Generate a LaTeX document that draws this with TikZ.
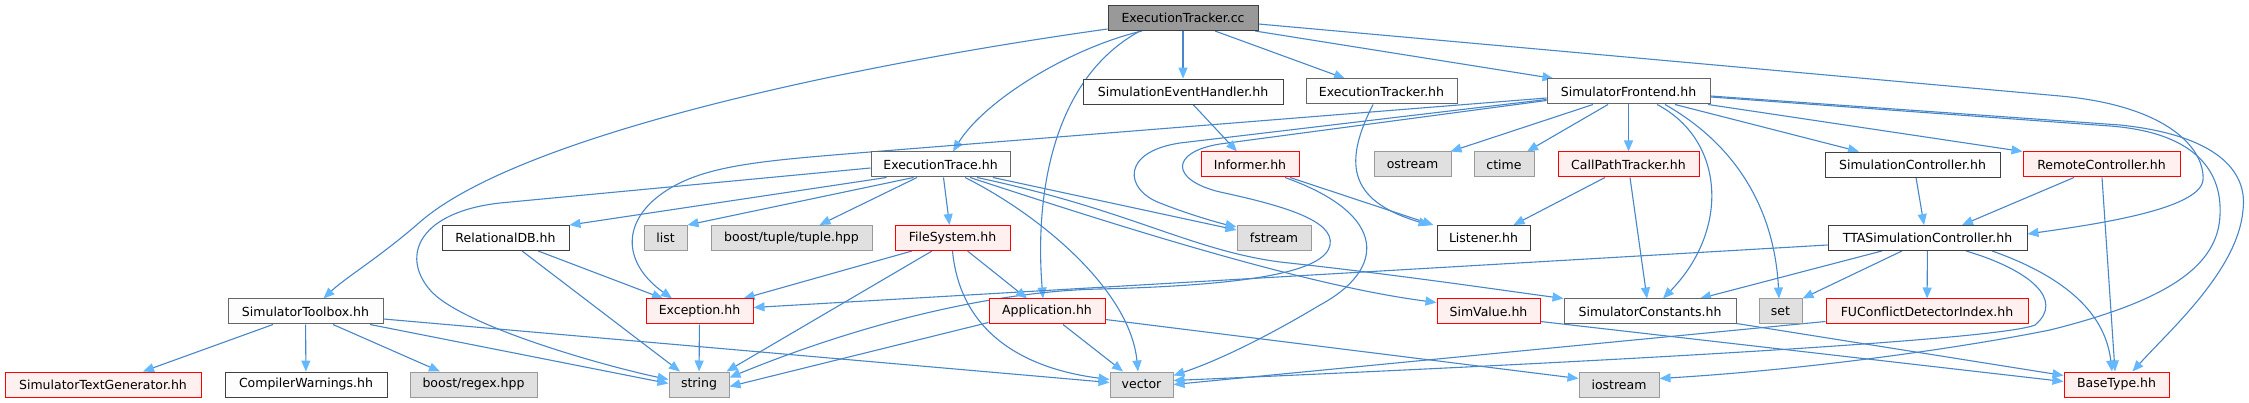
\documentclass[tikz,border=0pt]{standalone}
\usepackage{fontspec}
\setmainfont{DejaVu Sans}
\usetikzlibrary{arrows.meta}
\definecolor{edgeblue}{HTML}{4786C8}
\definecolor{tipblue}{HTML}{63B8FF}
\definecolor{rootfill}{HTML}{999999}
\definecolor{redfill}{HTML}{FFF0F0}
\definecolor{extfill}{HTML}{E0E0E0}
\definecolor{extdraw}{HTML}{999999}
\definecolor{docdraw}{HTML}{666666}
\definecolor{darkdraw}{HTML}{404040}
\definecolor{whitefill}{HTML}{FCFDFC}
\pgfdeclarelayer{bg}
\pgfsetlayers{bg,main}
\tikzset{
 box/.style={rectangle, inner sep=0pt, minimum height=25pt, font=\fontsize{12.5}{15}\selectfont, text=black},
 rootbox/.style={box, fill=rootfill, draw=darkdraw, line width=1pt},
 docbox/.style={box, fill=whitefill, draw=docdraw, line width=1pt},
 darkbox/.style={box, fill=whitefill, draw=darkdraw, line width=0.9pt},
 redbox/.style={box, fill=redfill, draw=red, line width=1pt},
 extbox/.style={box, fill=extfill, draw=extdraw, line width=1pt},
 edge/.style={draw=edgeblue, line width=1.1pt, -{Triangle[length=11pt,width=9pt,color=tipblue]}},
}
\begin{document}
\begin{tikzpicture}[x=1pt,y=-1pt]
\useasboundingbox (0,0) rectangle (2249,403);
% row 0
\node[rootbox, minimum width=150pt] (etcc) at (1183,18) {ExecutionTracker.cc};
% row 1
\node[darkbox, minimum width=200pt] (seh) at (1183,91.5) {SimulationEventHandler.hh};
\node[docbox, minimum width=151pt] (eth) at (1381.5,91.5) {ExecutionTracker.hh};
\node[docbox, minimum width=163pt] (sfe) at (1628.5,91.5) {SimulatorFrontend.hh};
% row 2
\node[docbox, minimum width=139pt] (etr) at (940.5,164.5) {ExecutionTrace.hh};
\node[redbox, minimum width=98pt] (inf) at (1250,164.5) {Informer.hh};
\node[extbox, minimum width=77pt] (ost) at (1412.5,164.5) {ostream};
\node[extbox, minimum width=60pt] (ctime) at (1504,164.5) {ctime};
\node[redbox, minimum width=141pt] (cpt) at (1628.5,164.5) {CallPathTracker.hh};
\node[darkbox, minimum width=175pt] (sctl) at (1912.5,164.5) {SimulationController.hh};
\node[redbox, minimum width=157pt] (rc) at (2101.5,164.5) {RemoteController.hh};
% row 3
\node[darkbox, minimum width=127pt] (rdb) at (505.5,238) {RelationalDB.hh};
\node[extbox, minimum width=43pt] (list) at (665.5,238) {list};
\node[extbox, minimum width=161pt] (tuple) at (791.5,238) {boost/tuple/tuple.hpp};
\node[redbox, minimum width=115pt] (fs) at (952.5,238) {FileSystem.hh};
\node[extbox, minimum width=74pt] (fst) at (1274,238) {fstream};
\node[darkbox, minimum width=93pt] (lis) at (1483.5,238) {Listener.hh};
\node[darkbox, minimum width=199pt] (tta) at (1927.5,238) {TTASimulationController.hh};
% row 4
\node[docbox, minimum width=155pt] (stb) at (305.5,311.5) {SimulatorToolbox.hh};
\node[redbox, minimum width=107pt] (exc) at (699.5,311.5) {Exception.hh};
\node[redbox, minimum width=116pt] (app) at (1047,311.5) {Application.hh};
\node[redbox, minimum width=103pt] (sv) at (1488.5,311.5) {SimValue.hh};
\node[docbox, minimum width=172pt] (sc) at (1650,311.5) {SimulatorConstants.hh};
\node[extbox, minimum width=43pt] (set) at (1780.5,311.5) {set};
\node[redbox, minimum width=202pt] (fuc) at (1927,311.5) {FUConflictDetectorIndex.hh};
% row 5
\node[redbox, minimum width=196pt] (stg) at (103,384.5) {SimulatorTextGenerator.hh};
\node[darkbox, minimum width=162pt] (cw) at (306,384.5) {CompilerWarnings.hh};
\node[extbox, minimum width=127pt] (regex) at (473.5,384.5) {boost/regex.hpp};
\node[extbox, minimum width=60pt] (str) at (699,384.5) {string};
\node[extbox, minimum width=63pt] (vec) at (1141.5,384.5) {vector};
\node[extbox, minimum width=80pt] (ios) at (1619,384.5) {iostream};
\node[redbox, minimum width=105pt] (bt) at (2116.5,384.5) {BaseType.hh};

\begin{pgfonlayer}{bg}
\fill[white] (0,0) rectangle (2249,403);
% ExecutionTracker.cc
\draw[edge] ([yshift=2pt]etcc.south west) .. controls (850,65) and (520,135) .. (420,222) .. controls (380,257) and (345,278) .. ([xshift=18pt]stb.north);
\draw[edge] ([xshift=-41pt]etcc.south) .. controls (1070,48) and (985,100) .. ([xshift=12.5pt]etr.north);
\draw[edge] ([xshift=-43pt]etcc.south) .. controls (1050,80) and (1035,200) .. ([xshift=-4pt]app.north);
\draw[edge] (etcc) -- (seh);
\draw[edge] ([xshift=32pt]etcc.south) -- ([xshift=-36.5pt]eth.north);
\draw[edge] ([xshift=72pt]etcc.south) -- ([xshift=-75pt]sfe.north);
\draw[edge] ([yshift=-6pt]etcc.east) -- (2060,96) .. controls (2170,106) and (2205,150) .. (2203,180) .. controls (2200,210) and (2090,225) .. ([yshift=4pt]tta.east);
% SimulatorFrontend
\draw[edge] ([xshift=-35.5pt]sfe.south) -- ([xshift=38pt]ost.north);
\draw[edge] ([xshift=-20.5pt]sfe.south) -- ([xshift=23pt]ctime.north);
\draw[edge] (sfe) -- (cpt);
\draw[edge] ([xshift=28.5pt]sfe.south) .. controls (1725,140) and (1730,230) .. ([xshift=13pt]sc.north);
\draw[edge] ([xshift=36.5pt]sfe.south) .. controls (1745,150) and (1775,220) .. ([xshift=-1.5pt]set.north);
\draw[edge] ([xshift=46.5pt]sfe.south) -- ([xshift=-53.5pt]sctl.north);
\draw[edge] ([xshift=79.5pt]sfe.south) -- (rc.north west);
\draw[edge] ([yshift=-4.5pt]sfe.east) -- (2120,125) .. controls (2215,135) and (2248,170) .. (2243,210) .. controls (2238,270) and (2170,330) .. ([xshift=16pt]bt.north);
\draw[edge] ([yshift=-5.5pt]sfe.east) -- (2110,126) .. controls (2200,133) and (2222,175) .. (2220,215) .. controls (2218,265) and (2170,300) .. (2050,330) .. controls (1950,350) and (1800,370) .. ([yshift=6pt]ios.east);
\draw[edge] ([yshift=-6.5pt]sfe.west) -- (870,152) .. controls (760,161) and (700,165) .. (660,195) .. controls (620,225) and (625,265) .. ([xshift=-27.5pt]exc.north);
\draw[edge] ([yshift=-8pt]sfe.west) -- (1180,143) .. controls (1120,152) and (1125,190) .. (1160,203) .. controls (1185,213) and (1215,222) .. ([yshift=11pt]fst.west);
\draw[edge] ([yshift=-9pt]sfe.west) -- (1220,144) .. controls (1170,152) and (1170,180) .. (1220,192) .. controls (1280,205) and (1335,220) .. (1330,245) .. controls (1325,270) and (1260,285) .. (1100,289) .. controls (1000,291) and (870,320) .. ([yshift=7pt]str.east);
% TTASimulationController
\draw[edge] ([yshift=-7pt]tta.west) -- ([yshift=4pt]exc.east);
\draw[edge] ([xshift=-45.5pt]tta.south) -- ([xshift=50pt]sc.north);
\draw[edge] ([xshift=-25.5pt]tta.south) -- (set.north east);
\draw[edge] (tta) -- (fuc);
\draw[edge] ([xshift=38.5pt]tta.south) .. controls (2030,270) and (2065,300) .. (2035,325) .. controls (2000,340) and (1600,362) .. ([yshift=4pt]vec.east);
\draw[edge] ([xshift=64.5pt]tta.south) .. controls (2060,275) and (2105,310) .. ([xshift=-4.5pt]bt.north);
% controllers
\draw[edge] ([xshift=3.5pt]sctl.south) -- ([xshift=-3.5pt]tta.north);
\draw[edge] ([xshift=-27.5pt]rc.south) -- ([xshift=34.5pt]tta.north);
\draw[edge] ([xshift=0.5pt]rc.south) -- ([xshift=-1.5pt]bt.north);
\draw[edge] ([yshift=-10pt]fuc.west) -- (vec.east);
\draw[edge] ([yshift=-10pt]sv.east) -- ([yshift=3pt]bt.west);
\draw[edge] ([yshift=-12pt]sc.east) -- ([yshift=9pt]bt.west);
% Application
\draw[edge] ([xshift=16pt]app.south) -- ([xshift=-18.5pt]vec.north);
\draw[edge] ([yshift=-8pt]app.east) -- ([yshift=6pt]ios.west);
\draw[edge] ([yshift=-11pt]app.west) -- ([yshift=-2pt]str.east);
% FileSystem
\draw[edge] ([xshift=-40.5pt]fs.south) -- ([xshift=-10pt]exc.north east);
\draw[edge] ([xshift=-20.5pt]fs.south) -- ([xshift=-3pt]str.north east);
\draw[edge] (fs.south) .. controls (960,330) and (1020,368) .. ([yshift=5pt]vec.west);
\draw[edge] ([xshift=15pt]fs.south) -- ([xshift=-20pt]app.north);
% ExecutionTrace
\draw[edge] ([xshift=-54pt]etr.south) -- (rdb.north east);
\draw[edge] ([xshift=-27pt]etr.south) -- (list.north east);
\draw[edge] ([xshift=-23.5pt]etr.south) -- ([xshift=28pt]tuple.north);
\draw[edge] ([xshift=3pt]etr.south) -- ([xshift=-3pt]fs.north);
\draw[edge] ([xshift=24.5pt]etr.south) .. controls (1040,215) and (1130,290) .. ([xshift=-3.5pt]vec.north);
\draw[edge] ([xshift=52.5pt]etr.south) -- ([yshift=8pt]fst.west);
\draw[edge] ([xshift=36.5pt]etr.south) .. controls (1130,210) and (1190,250) .. (1280,262) .. controls (1400,275) and (1500,290) .. (sc.north west);
\draw[edge] ([xshift=29.5pt]etr.south) .. controls (1100,220) and (1300,285) .. ([yshift=9pt]sv.west);
\draw[edge] ([yshift=-3.5pt]etr.west) -- (500,203) .. controls (420,212) and (400,255) .. (430,290) .. controls (460,325) and (600,365) .. ([yshift=5pt]str.west);
% RelationalDB, Exception
\draw[edge] ([xshift=32.5pt]rdb.south) -- ([xshift=-36.5pt]exc.north);
\draw[edge] ([xshift=16.5pt]rdb.south) -- ([xshift=-19pt]str.north);
\draw[edge] (exc) -- (str);
% SimulatorToolbox
\draw[edge] ([xshift=-32.5pt]stb.south) -- ([xshift=40pt]stg.north);
\draw[edge] (stb) -- (cw);
\draw[edge] ([xshift=27.5pt]stb.south) -- ([xshift=-33.5pt]regex.north);
\draw[edge] ([xshift=64.5pt]stb.south) -- ([yshift=1pt]str.west);
\draw[edge] ([yshift=-7.5pt]stb.east) -- ([yshift=2pt]vec.west);
% misc
\draw[edge] ([xshift=10pt]seh.south) -- ([xshift=-13pt]inf.north);
\draw[edge] ([xshift=40pt]inf.south) -- ([xshift=-50pt]lis.north);
\draw[edge] ([xshift=35pt]inf.south) .. controls (1390,215) and (1385,270) .. (1320,305) .. controls (1270,335) and (1220,360) .. ([yshift=9pt]vec.east);
\draw[edge] ([xshift=-8.5pt]eth.south) .. controls (1345,160) and (1345,200) .. ([xshift=-54pt]lis.north);
\draw[edge] ([xshift=-23.5pt]cpt.south) -- ([xshift=30pt]lis.north);
\draw[edge] ([xshift=1.5pt]cpt.south) -- ([xshift=-3pt]sc.north);
\end{pgfonlayer}
\end{tikzpicture}
\end{document}
